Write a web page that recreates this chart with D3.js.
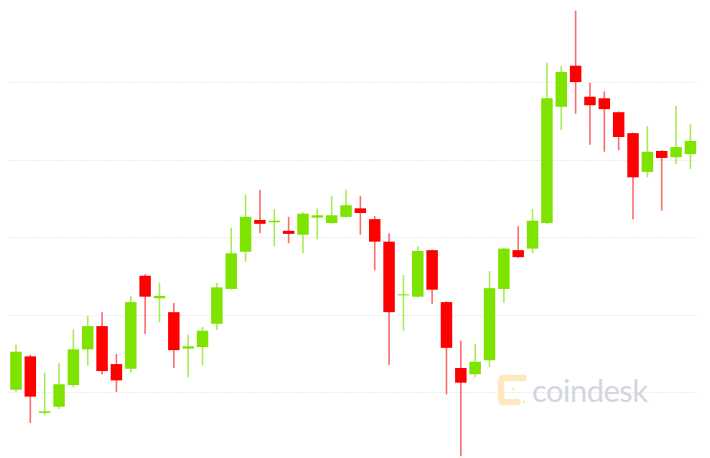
<!DOCTYPE html>
<html><head><meta charset="utf-8">
<script src="https://cdn.jsdelivr.net/npm/d3@7"></script>
<style>html,body{margin:0;padding:0;background:#fff;overflow:hidden}</style>
</head><body>
<svg id="chart" width="710" height="458"></svg>
<script>
const opens  = [9103,9146,9073,9081,9109,9155,9185,9136,9130,9250,9221,9203,9156,9158,9188,9233,9281,9322,9319,9308,9303,9325,9318,9326,9337,9323,9294,9225,9223,9283,9216,9131,9123,9141,9233,9283,9285,9318,9468,9521,9481,9479,9461,9434,9384,9411,9403,9407];
const highs  = [9161,9148,9125,9137,9181,9198,9203,9149,9224,9252,9241,9215,9174,9184,9241,9312,9355,9361,9336,9326,9332,9337,9353,9361,9353,9327,9305,9251,9288,9284,9217,9166,9162,9256,9286,9314,9336,9525,9521,9592,9499,9488,9462,9435,9443,9412,9469,9446];
const lows   = [9100,9060,9070,9078,9106,9134,9123,9100,9125,9175,9190,9131,9119,9134,9180,9232,9268,9305,9288,9292,9279,9297,9317,9325,9303,9257,9135,9179,9222,9214,9097,9017,9119,9132,9215,9273,9279,9317,9438,9459,9419,9410,9412,9323,9377,9334,9394,9388];
const closes = [9152,9094,9075,9110,9155,9185,9127,9115,9216,9223,9224,9154,9159,9179,9235,9279,9326,9317,9321,9304,9330,9328,9328,9341,9331,9294,9203,9226,9282,9232,9157,9112,9139,9234,9285,9274,9321,9479,9513,9500,9470,9465,9429,9377,9410,9402,9416,9424];
const gridTicks = [9100, 9200, 9300, 9400, 9500];
const brand = "coindesk";

const data = opens.map((o,i)=>({i, o, h:highs[i], l:lows[i], c:closes[i]}));
const svg = d3.select("#chart");
const x = d3.scaleBand().domain(data.map(d=>d.i)).range([8.8, 697.6]).paddingInner(0.2).paddingOuter(0.1);
const y = d3.scaleLinear().domain([9000, 9600]).range([469.5, 4.5]);

// gridlines
svg.append("g").selectAll("line").data(gridTicks).join("line")
  .attr("x1", 8).attr("x2", 698)
  .attr("y1", d=>Math.round(y(d))+0.5).attr("y2", d=>Math.round(y(d))+0.5)
  .attr("stroke", "#eaecf5").attr("stroke-width", 1).attr("stroke-dasharray", "2,1");

// watermark
const wm = svg.append("g");
const logoColor = "#fde9bd";
const dots = [[503,378],[510,378],[517,378],[523,378],[501,384],[501,390],[501,396],[503,402],[510,402],[517,402]];
wm.append("path").attr("d","M523,378 L503,378 Q501,378 501,384 L501,396 Q501,402 503,402 L517,402")
  .attr("fill","none").attr("stroke",logoColor).attr("stroke-width",6).attr("stroke-linecap","round").attr("stroke-linejoin","round");
wm.selectAll("circle.d").data(dots).join("circle").attr("cx",d=>d[0]).attr("cy",d=>d[1]).attr("r",3.6).attr("fill",logoColor);
wm.selectAll("circle.s").data([[513,389],[524,402]]).join("circle").attr("cx",d=>d[0]).attr("cy",d=>d[1]).attr("r",1.4).attr("fill",logoColor);
wm.append("text").attr("x", 532).attr("y", 402).text(brand)
  .attr("font-family","Lato, 'Open Sans', sans-serif").attr("font-weight",400).attr("font-size",31)
  .attr("fill","#d3d6de").attr("textLength",116);

const green = "#7fe300", red = "#ff0000";
const col = d => d.c >= d.o ? green : red;
const wickCol = d => d.c >= d.o ? "#a6ec55" : "#ff6b6b";

const g = svg.append("g");
g.selectAll("line.w").data(data).join("line")
  .attr("x1", d=>x(d.i)+x.bandwidth()/2).attr("x2", d=>x(d.i)+x.bandwidth()/2)
  .attr("y1", d=>y(d.h)).attr("y2", d=>y(d.l))
  .attr("stroke", wickCol).attr("stroke-width", 1.6);
g.selectAll("rect.b").data(data).join("rect")
  .attr("x", d=>x(d.i)).attr("width", x.bandwidth())
  .attr("y", d=>y(Math.max(d.o,d.c)))
  .attr("height", d=>Math.max(1, Math.abs(y(d.o)-y(d.c))))
  .attr("fill", col);
</script>
</body></html>
